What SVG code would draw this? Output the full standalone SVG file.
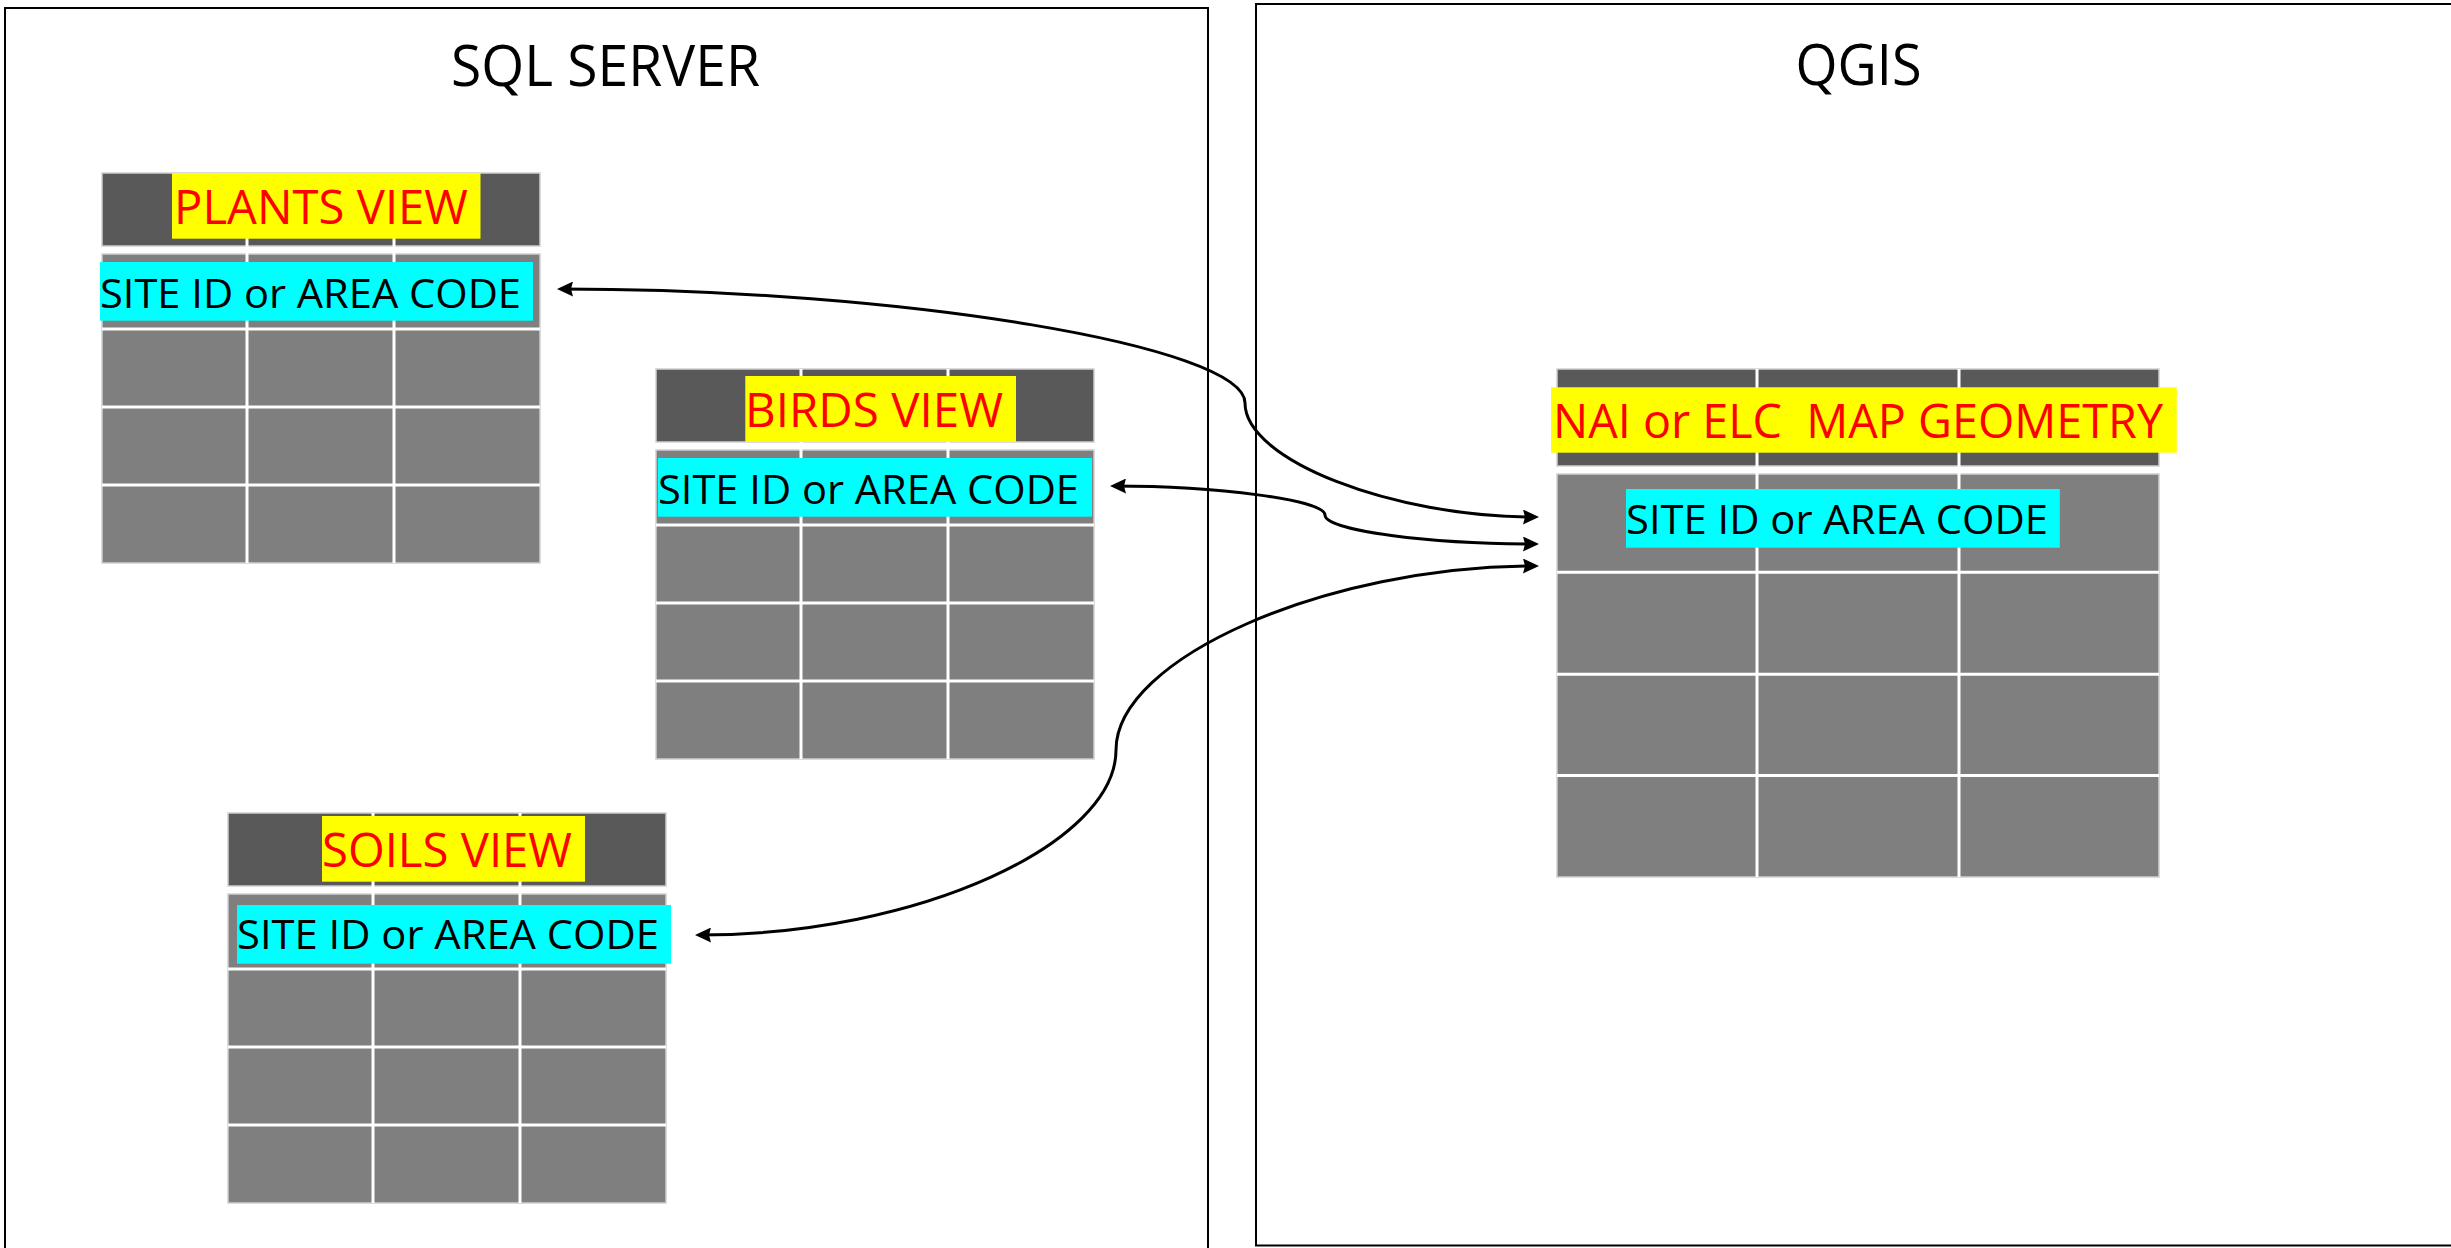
<svg xmlns="http://www.w3.org/2000/svg" xmlns:xlink="http://www.w3.org/1999/xlink" width="2451" height="1248" viewBox="0 0 2451 1248">
  <style>
    .frame { fill: none; stroke: #000; stroke-width: 2; }
    .title { font-family: "Open Sans", "Liberation Sans", sans-serif; font-size: 56px; fill: #000; text-anchor: middle; }
    .hdr { fill: #595959; stroke: #cfcfcf; stroke-width: 1.5; }
    .dat { fill: #7f7f7f; stroke: #cfcfcf; stroke-width: 1.5; }
    .sep { stroke: #ffffff; stroke-width: 3; }
    .ylw { fill: #ffff00; }
    .cyn { fill: #00ffff; }
    .vname { font-family: "Open Sans", "Liberation Sans", sans-serif; font-size: 47px; fill: #ff0000; white-space: pre; }
    .key { font-family: "Open Sans", "Liberation Sans", sans-serif; font-size: 41px; fill: #000; }
    .conn { fill: none; stroke: #000; stroke-width: 3; }
  </style>
  <defs>
    <marker id="arr" viewBox="0 0 16 15" markerUnits="userSpaceOnUse" markerWidth="16" markerHeight="15" refX="12" refY="7.5" orient="auto-start-reverse">
      <path d="M0,0 L16,7.5 L0,15 L2,7.5 Z" fill="#000"/>
    </marker>
    <g id="viewTable">
      <rect class="hdr" x="0" y="0" width="438" height="73"/>
      <rect class="dat" x="0" y="81" width="438" height="309"/>
      <line class="sep" x1="0" y1="156" x2="438" y2="156"/>
      <line class="sep" x1="0" y1="234" x2="438" y2="234"/>
      <line class="sep" x1="0" y1="312" x2="438" y2="312"/>
      <line class="sep" x1="145" y1="0" x2="145" y2="390"/>
      <line class="sep" x1="292" y1="0" x2="292" y2="390"/>
    </g>
  </defs>

  <rect width="2451" height="1248" fill="#fff"/>

  <g id="sql-server">
    <rect class="frame" x="5" y="8" width="1203" height="1260"/>
    <text class="title" x="605.5" y="86" textLength="309" lengthAdjust="spacingAndGlyphs">SQL SERVER</text>
  </g>

  <g id="qgis">
    <rect class="frame" x="1256" y="4" width="1210" height="1241.5"/>
    <text class="title" x="1858.5" y="85" textLength="126" lengthAdjust="spacingAndGlyphs">QGIS</text>
  </g>

  <g id="plants-view">
    <use xlink:href="#viewTable" href="#viewTable" transform="translate(102,173)"/>
    <rect class="ylw" x="172" y="173" width="308.5" height="65.7"/>
    <text class="vname" x="174" y="224.3" textLength="294" lengthAdjust="spacingAndGlyphs">PLANTS VIEW</text>
    <rect class="cyn" x="100" y="262" width="433" height="58.7"/>
    <text class="key" x="100" y="307.7" textLength="421" lengthAdjust="spacingAndGlyphs">SITE ID or AREA CODE</text>
  </g>

  <g id="birds-view">
    <use xlink:href="#viewTable" href="#viewTable" transform="translate(656,369)"/>
    <rect class="ylw" x="745.3" y="376" width="270.7" height="66"/>
    <text class="vname" x="745" y="426.7" textLength="258" lengthAdjust="spacingAndGlyphs">BIRDS VIEW</text>
    <rect class="cyn" x="658" y="458" width="434" height="58.7"/>
    <text class="key" x="658" y="504" textLength="421" lengthAdjust="spacingAndGlyphs">SITE ID or AREA CODE</text>
  </g>

  <g id="soils-view">
    <use xlink:href="#viewTable" href="#viewTable" transform="translate(228,813)"/>
    <rect class="ylw" x="322" y="816" width="263" height="65.7"/>
    <text class="vname" x="322" y="866.7" textLength="250" lengthAdjust="spacingAndGlyphs">SOILS VIEW</text>
    <rect class="cyn" x="237" y="905" width="434" height="58.7"/>
    <text class="key" x="237" y="949.3" textLength="422" lengthAdjust="spacingAndGlyphs">SITE ID or AREA CODE</text>
  </g>

  <g id="nai-elc-map-geometry">
    <rect class="hdr" x="1557" y="369" width="602" height="97"/>
    <rect class="dat" x="1557" y="474" width="602" height="403"/>
    <line class="sep" x1="1557" y1="572.2" x2="2159" y2="572.2"/>
    <line class="sep" x1="1557" y1="674.2" x2="2159" y2="674.2"/>
    <line class="sep" x1="1557" y1="775.5" x2="2159" y2="775.5"/>
    <line class="sep" x1="1757" y1="369" x2="1757" y2="877"/>
    <line class="sep" x1="1959" y1="369" x2="1959" y2="877"/>
    <rect class="ylw" x="1551" y="387.3" width="625.8" height="65.4"/>
    <text class="vname" x="1553" y="438.3" textLength="610" lengthAdjust="spacingAndGlyphs">NAI or ELC  MAP GEOMETRY</text>
    <rect class="cyn" x="1626" y="489" width="433.8" height="58.7"/>
    <text class="key" x="1626" y="534.3" textLength="422" lengthAdjust="spacingAndGlyphs">SITE ID or AREA CODE</text>
  </g>

  <g id="connectors">
    <path class="conn" marker-start="url(#arr)" marker-end="url(#arr)" d="M561,289 C901,289 1245,346 1245,403 C1245,460 1392,517 1535,517"/>
    <path class="conn" marker-start="url(#arr)" marker-end="url(#arr)" d="M1114,486 C1217,486 1325,500 1325,515 C1325,531 1432,544 1535,544"/>
    <path class="conn" marker-start="url(#arr)" marker-end="url(#arr)" d="M699,935 C920,935 1116,843 1116,750 C1116,658 1327,566 1535,566"/>
  </g>
</svg>
